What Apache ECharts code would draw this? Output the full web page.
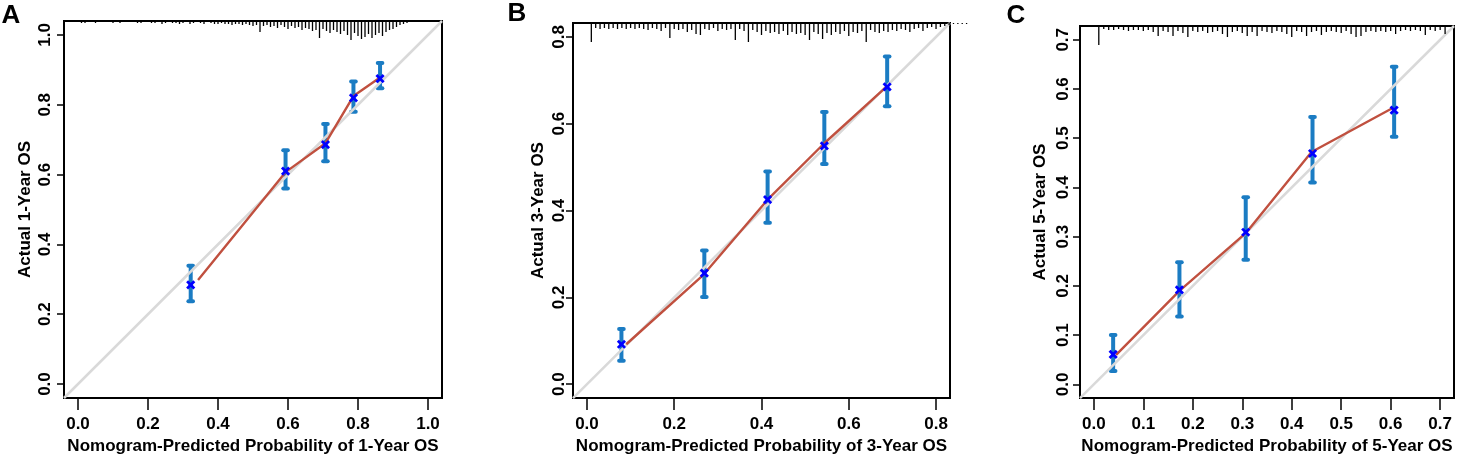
<!DOCTYPE html>
<html><head><meta charset="utf-8">
<script src="https://cdn.jsdelivr.net/npm/echarts@6/dist/echarts.min.js"></script>
<style>html,body{margin:0;padding:0;background:#fff}#c{width:1457px;height:460px}</style>
</head><body><div id="c"></div>
<script>
// ---------- Panel A (1-year) ----------
const aPred  = [0.322, 0.593, 0.707, 0.787, 0.863];
const aObs   = [0.284, 0.610, 0.686, 0.820, 0.875];
const aLo    = [0.237, 0.560, 0.638, 0.780, 0.847];
const aHi    = [0.339, 0.670, 0.745, 0.867, 0.920];
const aLineX = [0.343, 0.593, 0.707, 0.787, 0.863];
const aLineY = [0.298, 0.607, 0.690, 0.825, 0.878];
const aTicks = [0.0, 0.2, 0.4, 0.6, 0.8, 1.0];
const aLim   = [-0.04, 1.04];
const aRugX  = [0.01,0.02,0.03,0.04,0.05,0.06,0.07,0.08,0.09,0.10,0.11,0.12,0.13,0.14,0.15,0.16,0.17,0.18,0.19,0.20,
                0.21,0.22,0.23,0.24,0.25,0.26,0.27,0.28,0.29,0.30,0.31,0.32,0.33,0.34,0.35,0.36,0.37,0.38,0.39,0.40,
                0.41,0.42,0.43,0.44,0.45,0.46,0.47,0.48,0.49,0.50,0.51,0.52,0.53,0.54,0.55,0.56,0.57,0.58,0.59,0.60,
                0.61,0.62,0.63,0.64,0.65,0.66,0.67,0.68,0.69,0.70,0.71,0.72,0.73,0.74,0.75,0.76,0.77,0.78,0.79,0.80,
                0.81,0.82,0.83,0.84,0.85,0.86,0.87,0.88,0.89,0.90,0.91,0.92,0.93,0.94];
const aRugN  = [2,2,1,0,2,0,1,1,0,2, 0,2,1,0,1,0,2,2,1,0,
                2,2,1,3,2,0,2,2,3,2, 1,3,2,1,2,3,1,2,3,3,
                2,3,3,4,3,3,4,3,4,5, 4,11,5,4,6,5,7,4,6,8,
                5,7,6,9,7,8,10,9,17,8, 10,12,9,11,13,10,14,19,12,15,
                18,16,13,17,14,12,15,11,9,8, 6,4,3,2];

// ---------- Panel B (3-year) ----------
const bPred  = [0.079, 0.269, 0.414, 0.544, 0.688];
const bObs   = [0.092, 0.256, 0.425, 0.549, 0.685];
const bLo    = [0.054, 0.201, 0.372, 0.507, 0.640];
const bHi    = [0.127, 0.308, 0.490, 0.627, 0.755];
const bLineX = [0.090, 0.265, 0.414, 0.544, 0.686];
const bLineY = [0.092, 0.250, 0.425, 0.555, 0.685];
const bTicks = [0.0, 0.2, 0.4, 0.6, 0.8];
const bLim   = [-0.032, 0.832];
const bRugX  = [0.01,0.02,0.03,0.04,0.05,0.06,0.07,0.08,0.09,0.10,0.11,0.12,0.13,0.14,0.15,0.16,0.17,0.18,0.19,0.20,
                0.21,0.22,0.23,0.24,0.25,0.26,0.27,0.28,0.29,0.30,0.31,0.32,0.33,0.34,0.35,0.36,0.37,0.38,0.39,0.40,
                0.41,0.42,0.43,0.44,0.45,0.46,0.47,0.48,0.49,0.50,0.51,0.52,0.53,0.54,0.55,0.56,0.57,0.58,0.59,0.60,
                0.61,0.62,0.63,0.64,0.65,0.66,0.67,0.68,0.69,0.70,0.71,0.72,0.73,0.74,0.75,0.76,0.77,0.78,0.79,0.80,
                0.81,0.82,0.83,0.84,0.85,0.86,0.87];
const bRugN  = [19,5,6,5,6,5,6,5,6,5, 6,5,6,7,5,6,8,5,15,6,
                7,6,9,7,11,12,6,7,5,8, 6,7,6,17,6,8,19,7,9,12,
                8,10,9,11,8,12,9,11,10,12, 17,9,11,16,10,12,9,11,8,13,
                9,10,8,19,7,9,10,8,9,7, 8,6,7,9,6,5,8,5,4,6,
                4,3,2,1,1,1,1];

// ---------- Panel C (5-year) ----------
const cPred  = [0.039, 0.173, 0.307, 0.442, 0.607];
const cObs   = [0.061, 0.192, 0.309, 0.469, 0.557];
const cLo    = [0.027, 0.138, 0.253, 0.410, 0.503];
const cHi    = [0.100, 0.248, 0.380, 0.543, 0.645];
const cLineX = [0.045, 0.173, 0.307, 0.440, 0.605];
const cLineY = [0.060, 0.190, 0.307, 0.472, 0.562];
const cTicks = [0.0, 0.1, 0.2, 0.3, 0.4, 0.5, 0.6, 0.7];
const cLim   = [-0.028, 0.728];
const cRugX  = [0.01,0.02,0.03,0.04,0.05,0.06,0.07,0.08,0.09,0.10,0.11,0.12,0.13,0.14,0.15,0.16,0.17,0.18,0.19,0.20,
                0.21,0.22,0.23,0.24,0.25,0.26,0.27,0.28,0.29,0.30,0.31,0.32,0.33,0.34,0.35,0.36,0.37,0.38,0.39,0.40,
                0.41,0.42,0.43,0.44,0.45,0.46,0.47,0.48,0.49,0.50,0.51,0.52,0.53,0.54,0.55,0.56,0.57,0.58,0.59,0.60,
                0.61,0.62,0.63,0.64,0.65,0.66,0.67,0.68,0.69,0.70,0.71];
const cRugN  = [19,3,4,4,3,4,5,4,4,5, 4,6,10,5,6,10,5,7,11,5,
                6,5,7,6,5,8,11,6,5,7, 10,6,10,5,6,7,5,6,8,11,
                5,6,10,6,5,9,6,5,6,7, 5,8,11,10,6,5,6,5,6,5,
                8,5,4,5,4,5,9,4,5,4, 8];

const FONT = '"Liberation Sans", Arial, Helvetica, sans-serif';
const BLUE_BAR = '#1b7cc3', BLUE_X = '#0000ff', RED = '#c0503f', GREY = '#d9d9d9';

const panels = [
  {letter:'A', lx:11, ly:16, grid:{left:64, top:21, width:378, height:380}, lim:aLim, ticks:aTicks,
   yLabM:10, yNameGap:30, xNameGap:40,
   xName:'Nomogram-Predicted Probability of 1-Year OS', yName:'Actual 1-Year OS',
   pred:aPred, obs:aObs, lo:aLo, hi:aHi, lineX:aLineX, lineY:aLineY, rugX:aRugX, rugN:aRugN},
  {letter:'B', lx:517, ly:14, grid:{left:573, top:23, width:377, height:380}, lim:bLim, ticks:bTicks,
   yLabM:5, yNameGap:26, xNameGap:39,
   xName:'Nomogram-Predicted Probability of 3-Year OS', yName:'Actual 3-Year OS',
   pred:bPred, obs:bObs, lo:bLo, hi:bHi, lineX:bLineX, lineY:bLineY, rugX:bRugX, rugN:bRugN},
  {letter:'C', lx:1016, ly:16, grid:{left:1080, top:26, width:374, height:376}, lim:cLim, ticks:cTicks,
   yLabM:8, yNameGap:31, xNameGap:36,
   xName:'Nomogram-Predicted Probability of 5-Year OS', yName:'Actual 5-Year OS',
   pred:cPred, obs:cObs, lo:cLo, hi:cHi, lineX:cLineX, lineY:cLineY, rugX:cRugX, rugN:cRugN}
];

const txt = {fontFamily: FONT, fontWeight: 'bold', fontSize: 17, color: '#000'};

function renderErr(params, api) {
  const x = api.value(0), lo = api.value(1), hi = api.value(2);
  const a = api.coord([x, lo]), b = api.coord([x, hi]);
  const cw = 2.3;
  return {type: 'group', children: [
    {type: 'line', shape: {x1: a[0], y1: a[1], x2: b[0], y2: b[1]}, style: {stroke: BLUE_BAR, lineWidth: 4}},
    {type: 'line', shape: {x1: a[0]-cw, y1: a[1], x2: a[0]+cw, y2: a[1]}, style: {stroke: BLUE_BAR, lineWidth: 4, lineCap: 'round'}},
    {type: 'line', shape: {x1: b[0]-cw, y1: b[1], x2: b[0]+cw, y2: b[1]}, style: {stroke: BLUE_BAR, lineWidth: 4, lineCap: 'round'}}
  ]};
}
function renderX(params, api) {
  const p = api.coord([api.value(0), api.value(1)]);
  const s = 3.6;
  return {type: 'group', children: [
    {type: 'line', shape: {x1: p[0]-s, y1: p[1]-s, x2: p[0]+s, y2: p[1]+s}, style: {stroke: BLUE_X, lineWidth: 2.8}},
    {type: 'line', shape: {x1: p[0]-s, y1: p[1]+s, x2: p[0]+s, y2: p[1]-s}, style: {stroke: BLUE_X, lineWidth: 2.8}}
  ]};
}
function renderRug(params, api) {
  const n = api.value(1);
  if (!n) return null;
  const p = api.coord([api.value(0), 0]);
  const top = params.coordSys.y;
  return {type: 'line', shape: {x1: p[0], y1: top, x2: p[0], y2: top + n * 1.0},
          style: {stroke: '#000', lineWidth: 1.3}};
}

const grid = [], xAxis = [], yAxis = [], series = [], graphic = [];
panels.forEach((P, i) => {
  grid.push(Object.assign({show: true, borderColor: '#000', borderWidth: 2, backgroundColor: 'transparent'}, P.grid));
  xAxis.push({type: 'value', gridIndex: i, min: P.lim[0], max: P.lim[1], position: 'bottom',
    axisLine: {show: false, onZero: false}, splitLine: {show: false},
    axisTick: {show: true, inside: false, length: 12, lineStyle: {color: '#000', width: 1.5}, customValues: P.ticks},
    axisLabel: Object.assign({customValues: P.ticks, formatter: v => v.toFixed(1), margin: 18}, txt),
    name: P.xName, nameLocation: 'middle', nameGap: P.xNameGap, nameTextStyle: txt});
  yAxis.push({type: 'value', gridIndex: i, min: P.lim[0], max: P.lim[1], position: 'left',
    axisLine: {show: false, onZero: false}, splitLine: {show: false},
    axisTick: {show: true, inside: false, length: 7, lineStyle: {color: '#000', width: 1.5}, customValues: P.ticks},
    axisLabel: Object.assign({customValues: P.ticks, formatter: v => v.toFixed(1), margin: P.yLabM, rotate: 90}, txt),
    name: P.yName, nameLocation: 'middle', nameGap: P.yNameGap, nameRotate: 90, nameTextStyle: txt});
  series.push({type: 'custom', xAxisIndex: i, yAxisIndex: i, z: 1, silent: true,
    renderItem: renderErr, data: P.pred.map((x, k) => [x, P.lo[k], P.hi[k]])});
  series.push({type: 'line', xAxisIndex: i, yAxisIndex: i, z: 2, silent: true, symbol: 'none',
    lineStyle: {color: GREY, width: 2.5}, data: [[P.lim[0], P.lim[0]], [P.lim[1], P.lim[1]]]});
  series.push({type: 'line', xAxisIndex: i, yAxisIndex: i, z: 3, silent: true, symbol: 'none',
    lineStyle: {color: RED, width: 2.4}, data: P.lineX.map((x, k) => [x, P.lineY[k]])});
  series.push({type: 'custom', xAxisIndex: i, yAxisIndex: i, z: 4, silent: true,
    renderItem: renderX, data: P.pred.map((x, k) => [x, P.obs[k]])});
  series.push({type: 'custom', xAxisIndex: i, yAxisIndex: i, z: 5, silent: true, clip: false,
    renderItem: renderRug, data: P.rugX.map((x, k) => [x, P.rugN[k]])});
  graphic.push({type: 'text', x: P.lx, y: P.ly,
    style: {text: P.letter, fontFamily: FONT, fontWeight: 'bold', fontSize: 26, fill: '#000',
            align: 'center', verticalAlign: 'middle', textAlign: 'center', textVerticalAlign: 'middle'}});
});

const chart = echarts.init(document.getElementById('c'), null, {renderer: 'canvas'});
chart.setOption({animation: false, backgroundColor: '#fff', grid, xAxis, yAxis, series, graphic});
</script></body></html>
